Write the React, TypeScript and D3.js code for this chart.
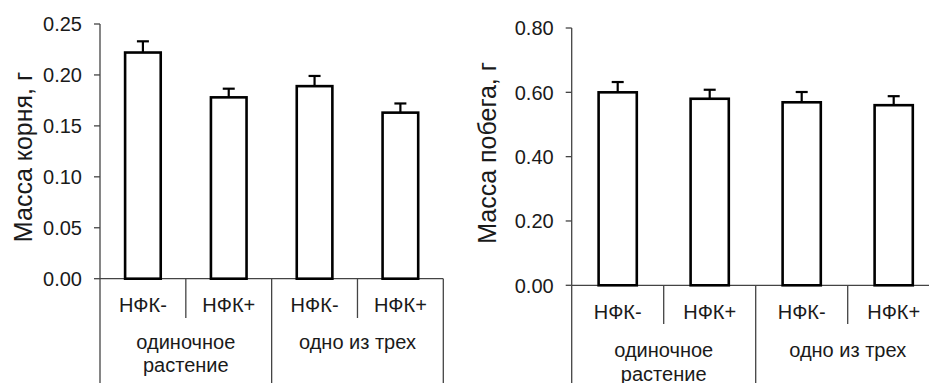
import React from "react";
import * as d3 from "d3";

const categories = ["НФК-", "НФК+", "НФК-", "НФК+"];
const groupLabels = [["одиночное", "растение"], ["одно из трех"]];
const rootMass = [0.222, 0.178, 0.189, 0.163];
const rootErr = [0.011, 0.0085, 0.01, 0.009];
const shootMass = [0.6, 0.58, 0.569, 0.56];
const shootErr = [0.032, 0.028, 0.032, 0.028];
const rootTicks = [0, 0.05, 0.1, 0.15, 0.2, 0.25];
const shootTicks = [0, 0.2, 0.4, 0.6, 0.8];

const FONT = "'Liberation Sans', Arial, sans-serif";
const TEXT = "#1a1a1a";
const AXIS = "#444";

type PanelProps = {
  values: number[];
  errors: number[];
  ticks: number[];
  max: number;
  label: string;
  x0: number;
  x1: number;
  yTop: number;
  yBottom: number;
  labelX: number;
  labelY: number;
  catBaseline: number;
  innerSepBottom: number;
  groupBaseline: number;
};

function Panel(p: PanelProps) {
  const y = d3.scaleLinear().domain([0, p.max]).range([p.yBottom, p.yTop]);
  const x = d3
    .scaleBand<number>()
    .domain(categories.map((_, i) => i))
    .range([p.x0, p.x1])
    .paddingInner(0.585)
    .paddingOuter(0.585 / 2);
  const step = (p.x1 - p.x0) / categories.length;
  const bw = x.bandwidth();
  const capW = 12;
  return (
    <g>
      {/* y axis */}
      <line x1={p.x0} x2={p.x0} y1={y(p.max)} y2={y(0)} stroke={AXIS} strokeWidth={1.3} />
      {p.ticks.map((t) => (
        <g key={t}>
          <line x1={p.x0 - 6} x2={p.x0} y1={y(t)} y2={y(t)} stroke={AXIS} strokeWidth={1.3} />
          <text
            x={p.x0 - 18}
            y={y(t)}
            dy="0.36em"
            textAnchor="end"
            fontSize={20}
            fontFamily={FONT}
            fill={TEXT}
          >
            {t.toFixed(2)}
          </text>
        </g>
      ))}
      {/* x axis */}
      <line x1={p.x0} x2={p.x1} y1={y(0)} y2={y(0)} stroke={AXIS} strokeWidth={1.3} />
      {d3.range(categories.length + 1).map((i) => {
        const bx = p.x0 + i * step;
        const isGroup = i % 2 === 0;
        return (
          <line
            key={"s" + i}
            x1={bx}
            x2={bx}
            y1={y(0)}
            y2={isGroup ? 383 : p.innerSepBottom}
            stroke={AXIS}
            strokeWidth={1.3}
          />
        );
      })}
      {/* bars */}
      {p.values.map((v, i) => {
        const bx = x(i)!;
        const cx = bx + bw / 2;
        return (
          <g key={"b" + i}>
            <line x1={cx} x2={cx} y1={y(v)} y2={y(v + p.errors[i])} stroke="#000" strokeWidth={2.2} />
            <line
              x1={cx - capW / 2}
              x2={cx + capW / 2}
              y1={y(v + p.errors[i])}
              y2={y(v + p.errors[i])}
              stroke="#000"
              strokeWidth={2.2}
            />
            <rect
              x={bx}
              y={y(v)}
              width={bw}
              height={y(0) - y(v)}
              fill="#fff"
              stroke="#000"
              strokeWidth={2.6}
            />
          </g>
        );
      })}
      {/* category labels */}
      {categories.map((c, i) => (
        <text
          key={"c" + i}
          x={x(i)! + bw / 2}
          y={p.catBaseline}
          textAnchor="middle"
          fontSize={20}
          fontFamily={FONT}
          fill={TEXT}
        >
          {c}
        </text>
      ))}
      {/* group labels */}
      {groupLabels.map((lines, g) => {
        const gx = p.x0 + (g * 2 + 1) * step;
        return (
          <text
            key={"g" + g}
            x={gx}
            y={p.groupBaseline}
            textAnchor="middle"
            fontSize={20}
            fontFamily={FONT}
            fill={TEXT}
          >
            {lines.map((l, k) => (
              <tspan key={k} x={gx} dy={k === 0 ? 0 : 23.5}>
                {l}
              </tspan>
            ))}
          </text>
        );
      })}
      {/* y label */}
      <text
        transform={`translate(${p.labelX},${p.labelY}) rotate(-90)`}
        textAnchor="middle"
        fontSize={25}
        fontFamily={FONT}
        fill={TEXT}
      >
        {p.label}
      </text>
    </g>
  );
}

export default function App() {
  return (
    <svg
      width={929}
      height={383}
      style={{ position: "absolute", left: 0, top: 0, background: "#fff" }}
    >
      <rect width={929} height={383} fill="#fff" />
      <Panel
        values={rootMass}
        errors={rootErr}
        ticks={rootTicks}
        max={0.25}
        label="Масса корня, г"
        x0={100}
        x1={443.3}
        yTop={24}
        yBottom={278.7}
        labelX={32}
        labelY={157}
        catBaseline={311.5}
        innerSepBottom={318}
        groupBaseline={348.5}
      />
      <Panel
        values={shootMass}
        errors={shootErr}
        ticks={shootTicks}
        max={0.8}
        label="Масса побега, г"
        x0={571.7}
        x1={939.7}
        yTop={28}
        yBottom={285.3}
        labelX={496}
        labelY={153}
        catBaseline={319}
        innerSepBottom={324}
        groupBaseline={357}
      />
    </svg>
  );
}
